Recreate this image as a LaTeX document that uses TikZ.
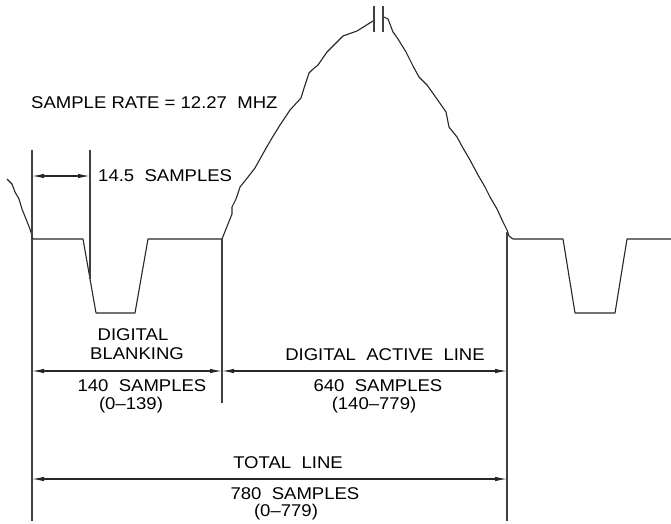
\documentclass[tikz,border=0pt]{standalone}
\usepackage{fontspec}
\setmainfont{Liberation Sans}[FakeStretch = 1.09]
\usepackage{tikz}
\usetikzlibrary{arrows.meta}

\tikzset{
	wave/.style = {line width = 1.1pt, black!85, line join = round},
	guide/.style = {line width = 1.2pt, black!75},
	dim/.style = {line width = 1.1pt, black!85, {Latex[length = 12pt, width = 4.5pt]}-{Latex[length = 12pt, width = 4.5pt]}},
	txt/.style = {draw = none, inner sep = 0pt, font = \fontsize{17}{19}\selectfont}
}

\begin{document}
\begin{tikzpicture}[x = 1pt, y = -1pt]
		\useasboundingbox (0,0) rectangle (671,523);
		% Left line with blanking pulse
		\draw [wave] (7,179) -- (12,184) -- (15,192) -- (19,199) -- (22,209) -- (26,219) -- (30,229) -- (33,239) -- (83,239) -- (96,313) -- (135,313) -- (148,239) -- (222,239) -- (226,229) -- (232,214) -- (232,207) -- (236,199) -- (240,187) -- (248,177) -- (255,168) -- (265,150) -- (272,138) -- (280,125) -- (290,110) -- (301,98) -- (305,85) -- (309,73) -- (312,70) -- (318,65) -- (327,52) -- (335,44) -- (343,36) -- (357,31) -- (373,21);
		% Active video, right half, and next blanking pulse
		\draw [wave] (384,17) -- (388,19) -- (393,32) -- (398,39) -- (406,52) -- (413,66) -- (419,77) -- (427,85) -- (437,99) -- (446,112) -- (449,127) -- (457,137) -- (463,148) -- (470,160) -- (478,175) -- (485,187) -- (490,197) -- (497,209) -- (503,222) -- (507,230) -- (509,236) -- (513,239) -- (563,239) -- (575,313) -- (615,313) -- (627,239) -- (671,239);
		% Break marks
		\draw [guide] (374,6) -- (374,32);
		\draw [guide] (383,6) -- (383,32);
		% Reference lines
		\coordinate (lineTop) at (32,150);
		\coordinate (lineBot) at (32,521);
		\coordinate (syncTop) at (90,150);
		\coordinate (syncBot) at (90,279);
		\coordinate (activeTop) at (222,239);
		\coordinate (activeBot) at (222,403);
		\coordinate (endTop) at (507,232);
		\coordinate (endBot) at (507,521);
		\draw [guide] (lineTop) -- (lineBot);
		\draw [guide] (syncTop) -- (syncBot);
		\draw [guide] (activeTop) -- (activeBot);
		\draw [guide] (endTop) -- (endBot);
		% Sample rate
		\node [txt, anchor = west] (rate) at (31,103) {SAMPLE RATE~=~12.27~~MHZ};
		% 14.5 samples
		\coordinate (syncL) at (32,176);
		\coordinate (syncR) at (90,176);
		\draw [dim] (syncL) -- (syncR);
		\node [txt, anchor = west] (sync) at (98,176) {14.5~~SAMPLES};
		% Digital blanking
		\coordinate (blankL) at (32,371);
		\coordinate (blankR) at (222,371);
		\draw [dim] (blankL) -- (blankR);
		\node [txt] (blankA) at (133,335) {DIGITAL};
		\node [txt] (blankB) at (137,354) {BLANKING};
		\node [txt] (blankN) at (142,386) {140~~SAMPLES};
		\node [txt] (blankR) at (131,405) {(0--139)};
		% Digital active line
		\coordinate (activeL) at (222,371);
		\coordinate (activeR) at (507,371);
		\draw [dim] (activeL) -- (activeR);
		\node [txt] (active) at (385,355) {DIGITAL~~ACTIVE~~LINE};
		\node [txt] (activeN) at (378,386) {640~~SAMPLES};
		\node [txt] (activeR) at (374,405) {(140--779)};
		% Total line
		\coordinate (totalL) at (32,479);
		\coordinate (totalR) at (507,479);
		\draw [dim] (totalL) -- (totalR);
		\node [txt] (total) at (288,463) {TOTAL~~LINE};
		\node [txt] (totalN) at (295,494) {780~~SAMPLES};
		\node [txt] (totalR) at (286,512) {(0--779)};
\end{tikzpicture}
\end{document}
